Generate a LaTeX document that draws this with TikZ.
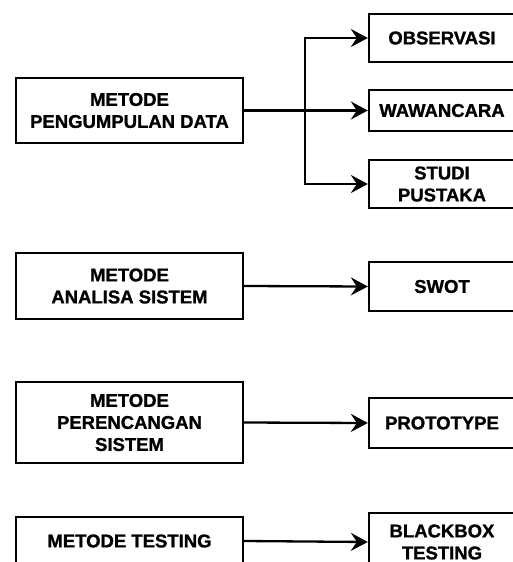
\documentclass[tikz,border=0pt]{standalone}
\usepackage{fontspec}
\setmainfont{Liberation Sans}[BoldFeatures={FakeBold=1.2}]
\usetikzlibrary{arrows.meta}

\begin{document}
\begin{tikzpicture}[x=1pt,y=-1pt,
    kotak/.style={draw,line width=2.3pt,align=center,inner sep=2pt,
        font=\fontsize{18.5}{22}\selectfont\bfseries},
    metode/.style={kotak,minimum width=227pt},
    hasil/.style={kotak,minimum width=146pt},
    panah/.style={line width=2.3pt,-{Stealth[length=17pt,width=18pt,inset=6pt]}}]

\clip (0,0) rectangle (513,562);

% metode
\node[metode,minimum height=65pt] (kumpul) at (129.5,110.5) {METODE\\PENGUMPULAN DATA};
\node[metode,minimum height=66pt] (analisa) at (129.5,286) {METODE\\ANALISA SISTEM};
\node[metode,minimum height=81pt] (rancang) at (129.5,422.5) {METODE\\PERENCANGAN\\SISTEM};
\node[metode,minimum height=48pt] (testing) at (129.5,541) {METODE TESTING};

% hasil
\node[hasil,minimum height=48pt] (observasi) at (442,38) {OBSERVASI};
\node[hasil,minimum height=41pt] (wawancara) at (442,110.5) {WAWANCARA};
\node[hasil,minimum height=48pt] (studi) at (442,184) {STUDI\\PUSTAKA};
\node[hasil,minimum height=49pt] (swot) at (442,286.5) {SWOT};
\node[hasil,minimum height=50pt] (proto) at (442,423) {PROTOTYPE};
\node[hasil,minimum height=58pt] (blackbox) at (442,542) {BLACKBOX\\TESTING};

\coordinate (cabang) at (305,110.5);

\draw[line width=3.5pt] (kumpul.east) -- (cabang);
\draw[panah] (cabang) |- (observasi.west);
\draw[panah] (cabang) -- (wawancara.west);
\draw[panah] (cabang) |- (studi.west);

\draw[panah] (analisa.east) -- (swot.west);
\draw[panah] (rancang.east) -- (proto.west);
\draw[panah] (testing.east) -- (blackbox.west);

\end{tikzpicture}
\end{document}
